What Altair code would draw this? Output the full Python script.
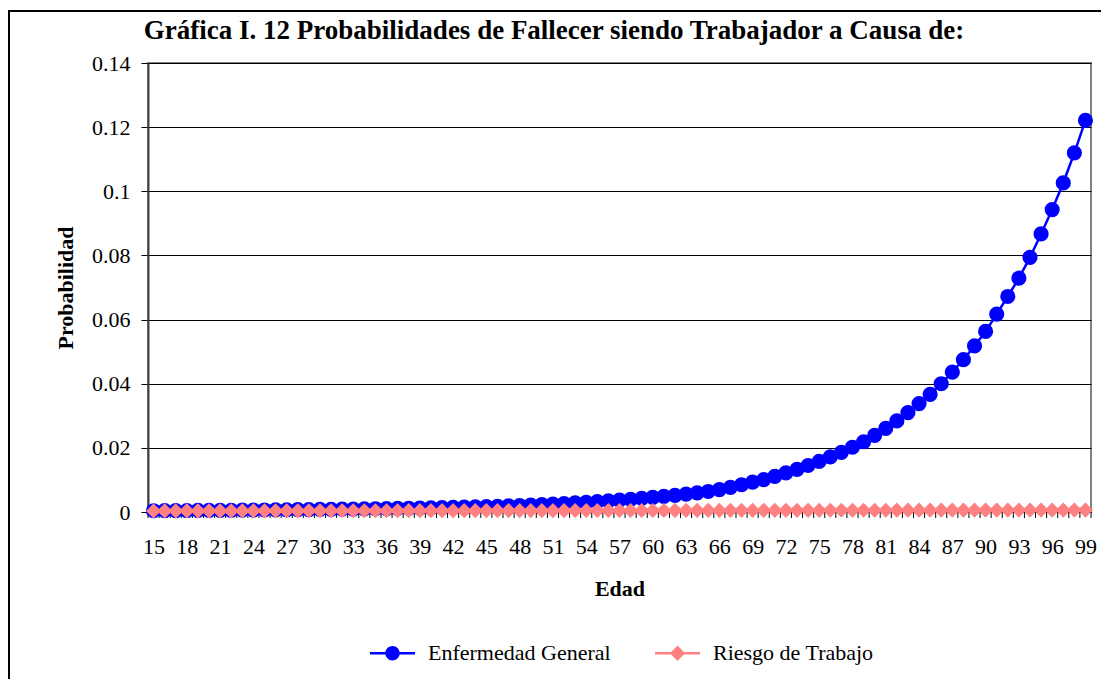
import altair as alt
import pandas as pd

# ---------------- data ----------------
ages = list(range(15, 100))

enfermedad_general = [
    0.00040, 0.00042, 0.00044, 0.00046, 0.00048, 0.00050, 0.00052, 0.00054, 0.00057, 0.00060,
    0.00063, 0.00066, 0.00069, 0.00072, 0.00076, 0.00080, 0.00084, 0.00088, 0.00092, 0.00097,
    0.00102, 0.00107, 0.00112, 0.00118, 0.00124, 0.00130, 0.00137, 0.00144, 0.00152, 0.00160,
    0.00169, 0.00179, 0.00190, 0.00202, 0.00216, 0.00231, 0.00247, 0.00264, 0.00282, 0.00302,
    0.00323, 0.00346, 0.00370, 0.00396, 0.00424, 0.00454, 0.00486, 0.00520, 0.00556, 0.00595,
    0.0064, 0.0070, 0.0077, 0.0085, 0.0093, 0.0101, 0.0111, 0.0122, 0.0133, 0.0145,
    0.0158, 0.0172, 0.0186, 0.0202, 0.0219, 0.0239, 0.0261, 0.0284, 0.0310, 0.0338,
    0.0367, 0.0400, 0.0436, 0.0475, 0.0518, 0.0563, 0.0617, 0.0672, 0.0729, 0.0794,
    0.0867, 0.0943, 0.1026, 0.1120, 0.1221,
]

riesgo_trabajo = [
    0.00032, 0.00033, 0.00033, 0.00034, 0.00034, 0.00035, 0.00035, 0.00035, 0.00036, 0.00036,
    0.00036, 0.00037, 0.00037, 0.00037, 0.00038, 0.00038, 0.00038, 0.00039, 0.00039, 0.00039,
    0.00040, 0.00040, 0.00040, 0.00041, 0.00041, 0.00041, 0.00042, 0.00042, 0.00042, 0.00043,
    0.00043, 0.00043, 0.00044, 0.00044, 0.00044, 0.00045, 0.00045, 0.00045, 0.00046, 0.00046,
    0.00046, 0.00047, 0.00047, 0.00047, 0.00048, 0.00048, 0.00048, 0.00049, 0.00049, 0.00049,
    0.00050, 0.00050, 0.00051, 0.00051, 0.00051, 0.00052, 0.00052, 0.00052, 0.00053, 0.00053,
    0.00053, 0.00054, 0.00054, 0.00054, 0.00055, 0.00055, 0.00055, 0.00056, 0.00056, 0.00056,
    0.00057, 0.00057, 0.00057, 0.00058, 0.00058, 0.00058, 0.00059, 0.00059, 0.00059, 0.00060,
    0.00060, 0.00060, 0.00061, 0.00061, 0.00061,
]

series_names = ["Enfermedad General", "Riesgo de Trabajo"]
series_colors = ["#0000FF", "#FF8080"]
y_ticks = [0, 0.02, 0.04, 0.06, 0.08, 0.1, 0.12, 0.14]
x_label_ages = list(range(15, 100, 3))
x_tick_bounds = [a - 0.5 for a in ages] + [ages[-1] + 0.5]

title_text = "Gráfica I. 12 Probabilidades de Fallecer siendo Trabajador a Causa de:"
x_title = "Edad"
y_title = "Probabilidad"

FONT = "Liberation Serif"

df = pd.DataFrame({
    "Edad": ages + ages,
    "Probabilidad": enfermedad_general + riesgo_trabajo,
    "Serie": [series_names[0]] * len(ages) + [series_names[1]] * len(ages),
})
ticks_df = pd.DataFrame({"Edad": x_tick_bounds})
title_df = pd.DataFrame({"titulo": [title_text]})

# ---------------- scales / axes ----------------
x_scale = alt.Scale(domain=[ages[0] - 0.5, ages[-1] + 0.5], nice=False, zero=False)
y_scale = alt.Scale(domain=[0, 0.14], nice=False)
color_scale = alt.Scale(domain=series_names, range=series_colors)

y_axis = alt.Axis(
    values=y_ticks, format=".2~f", grid=True, gridColor="#000000", gridWidth=1,
    domainColor="#404040", domainWidth=2, tickColor="#000000", tickSize=7,
    labelPadding=11, labelFont=FONT, labelFontSize=22, labelColor="#000000",
    title=y_title, titleFont=FONT, titleFontSize=22, titleFontWeight="bold",
    titleColor="#000000", titleAngle=270, titleX=-83, titleY=224.5,
    titleBaseline="middle", titleAlign="center",
)

x_axis = alt.Axis(
    orient="bottom", values=x_label_ages, ticks=False, tickSize=0, domain=True,
    domainColor="#000000", domainWidth=1,
    grid=False, labelPadding=24, labelFont=FONT, labelFontSize=22,
    labelColor="#000000", labelFlush=False, labelOverlap=False, format="d",
    title=x_title, titleFont=FONT, titleFontSize=22, titleFontWeight="bold",
    titleColor="#000000", titleY=76, titleBaseline="middle",
)

X = alt.X("Edad:Q", scale=x_scale, axis=x_axis)
Y = alt.Y("Probabilidad:Q", scale=y_scale, axis=y_axis)

# ---------------- layers ----------------
frame = alt.Chart(pd.DataFrame({"k": [0]})).mark_rect(
    filled=False, stroke="#000000", strokeWidth=2
).encode(
    x=alt.value(-139), x2=alt.value(1200), y=alt.value(-52), y2=alt.value(900)
)

title_layer = alt.Chart(title_df).mark_text(
    font=FONT, fontSize=27, fontWeight="bold", color="#000000",
    align="center", baseline="bottom",
).encode(
    text="titulo:N", x=alt.value(406), y=alt.value(-18)
)

tick_marks = alt.Chart(ticks_df).mark_rule(color="#000000", strokeWidth=1).encode(
    x=X, y=alt.value(449), y2=alt.value(455)
)

lines = alt.Chart(df).mark_line(strokeWidth=2.5).encode(
    x=X, y=Y,
    color=alt.Color("Serie:N", scale=color_scale, legend=None),
)

points = alt.Chart(df).mark_point(filled=True, opacity=1, size=230).encode(
    x=X, y=Y,
    color=alt.Color("Serie:N", scale=color_scale, legend=None),
    shape=alt.Shape("Serie:N", scale=alt.Scale(domain=series_names, range=["circle", "diamond"]), legend=None),
)

legend_shapes = [
    "M-1,-0.055L1,-0.055L1,0.055L-1,0.055Z M0.32,0A0.32,0.32 0 1,1 -0.32,0A0.32,0.32 0 1,1 0.32,0Z",
    "M-1,-0.055L1,-0.055L1,0.055L-1,0.055Z M-0.34,0L0,-0.34L0.34,0L0,0.34Z",
]

legend_def = dict(
    orient="none", legendX=222, legendY=567.5, direction="horizontal", title=None,
    labelFont=FONT, labelFontSize=22, labelColor="#000000", labelOffset=13,
    labelLimit=0, columnPadding=44, symbolSize=2025, symbolStrokeWidth=0, padding=0,
)

legend_layer = alt.Chart(df).transform_filter("false").mark_point(
    filled=True, opacity=1, size=2025
).encode(
    color=alt.Color("Serie:N", scale=color_scale, legend=alt.Legend(**legend_def)),
    shape=alt.Shape("Serie:N", scale=alt.Scale(domain=series_names, range=legend_shapes),
                    legend=alt.Legend(**legend_def)),
)

chart = alt.layer(frame, title_layer, tick_marks, lines, points, legend_layer).resolve_scale(
    color="independent", shape="independent"
).properties(
    width=943,
    height=449,
    autosize=alt.AutoSizeParams(type="none"),
    padding={"left": 140, "top": 55, "right": 10, "bottom": 167},
).configure(
    background="white"
).configure_view(
    stroke="#808080", strokeWidth=2
)

chart.save("out.html", embed_options={"renderer": "svg", "actions": False})
